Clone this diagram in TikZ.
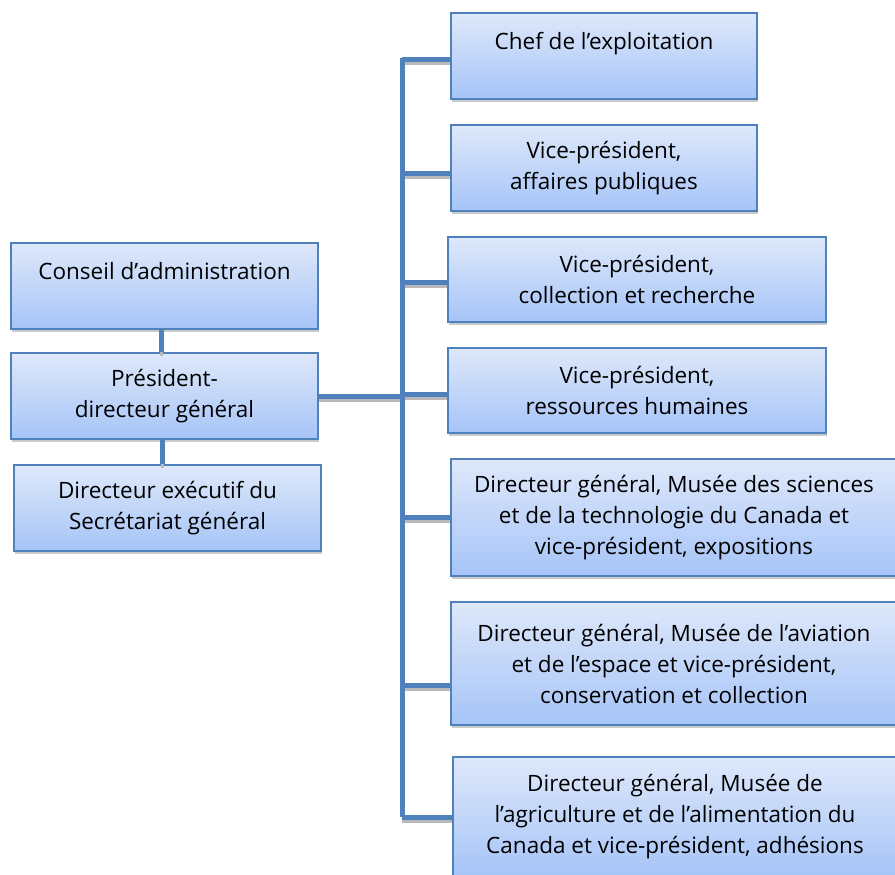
\documentclass[tikz,border=0pt]{standalone}
\usepackage{fontspec}
\setmainfont{Open Sans}
\usepackage{tikz}
\usetikzlibrary{shadows}
\definecolor{orgline}{HTML}{4F81BD}
\definecolor{orgtop}{HTML}{DEE8FA}
\definecolor{orgbot}{HTML}{A6C4F8}
\tikzset{
		orgbox/.style={draw=orgline, line width=2pt, top color=orgtop, bottom color=orgbot,
			align=center, inner sep=0pt, font=\fontsize{22.5}{31}\selectfont,
			drop shadow={shadow xshift=1pt, shadow yshift=-3pt, fill=gray!70, opacity=.6}},
		link/.style={draw=orgline, line width=5pt,
			preaction={draw=gray!55, line width=3pt, transform canvas={yshift=-4pt}}},
		bar/.style={draw=orgline, line width=5pt}
	}

\begin{document}
\begin{tikzpicture}[x=1pt, y=-1pt]
				\useasboundingbox (0,0) rectangle (895,875);
				% left column
				\node[orgbox, minimum width=307pt, minimum height=86pt] (cons) at (164.5,286) {Conseil d’administration\\\phantom{x}};
				\node[orgbox, minimum width=307pt, minimum height=86pt] (pdg)  at (164.5,396) {Président-\\directeur général};
				\node[orgbox, minimum width=307pt, minimum height=86pt] (dex)  at (167.5,508) {Directeur exécutif du\\Secrétariat général};
				% right column
				\node[orgbox, minimum width=306pt, minimum height=86pt]  (chef) at (604,56)    {Chef de l’exploitation\\\phantom{x}};
				\node[orgbox, minimum width=306pt, minimum height=86pt]  (vpa)  at (604,168)   {Vice-président,\\affaires publiques};
				\node[orgbox, minimum width=378pt, minimum height=85pt]  (vpc)  at (637,279.5) {Vice-président,\\collection et recherche};
				\node[orgbox, minimum width=378pt, minimum height=85pt]  (vpr)  at (637,390.5) {Vice-président,\\ressources humaines};
				\node[orgbox, minimum width=446pt, minimum height=117pt] (dgs)  at (674,517.5) {Directeur général, Musée des sciences\\et de la technologie du Canada et\\vice-président, expositions};
				\node[orgbox, minimum width=446pt, minimum height=123pt] (dga)  at (674,663.5) {Directeur général, Musée de l’aviation\\et de l’espace et vice-président,\\conservation et collection};
				\node[orgbox, minimum width=444pt, minimum height=120pt] (dgg)  at (675,817)   {Directeur général, Musée de\\l’agriculture et de l’alimentation du\\Canada et vice-président, adhésions};
				\coordinate (bus) at (402,0);
				% connectors
				\path[link] ([xshift=-3pt]cons.south) -- ([xshift=-3pt]cons.south |- pdg.north);
				\path[link] ([xshift=-5pt]dex.north |- pdg.south) -- ([xshift=-5pt]dex.north);
				\path[link] (pdg.east) -- (pdg.east -| bus);
				\path[link] ([yshift=-4pt]chef.west) -- ([yshift=-4pt]chef.west -| bus);
				\path[link] ([yshift=-5pt]vpa.west) -- ([yshift=-5pt]vpa.west -| bus);
				\path[link] ([yshift=-3pt]vpc.west) -- ([yshift=-3pt]vpc.west -| bus);
				\path[link] ([yshift=-4pt]vpr.west) -- ([yshift=-4pt]vpr.west -| bus);
				\path[link] (dgs.west) -- (dgs.west -| bus);
				\path[link] ([yshift=-22pt]dga.west) -- ([yshift=-22pt]dga.west -| bus);
				\path[link] (dgg.west) -- (dgg.west -| bus);
				\path[bar] ([yshift=-2pt]chef.west -| bus) -- (dgg.west -| bus);
			\end{tikzpicture}
\end{document}
